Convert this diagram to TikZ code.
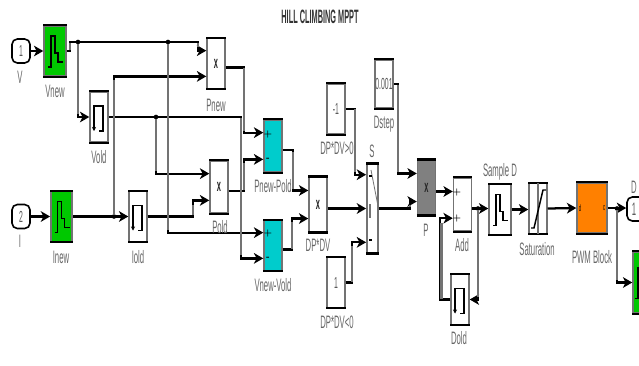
\documentclass[tikz,border=0pt]{standalone}
\usepackage{fontspec}
\usepackage{xcolor}
\usetikzlibrary{arrows.meta, calc}
\newfontfamily\blockfont[FakeStretch=0.43]{Liberation Sans}
\newfontfamily\titlefont[FakeStretch=0.38]{Liberation Sans Bold}
\definecolor{lgreen}{RGB}{0,200,0}
\definecolor{lcyan}{RGB}{0,204,204}
\definecolor{lorange}{RGB}{255,128,0}
\definecolor{side}{RGB}{115,115,115}
\tikzset{
    bar/.style={draw=black, line width=1.8pt},
    block/.style={draw=side, line width=1.1pt, fill=white, inner sep=0pt, minimum width=13.5pt, minimum height=37.5pt,
        font=\fontsize{12}{12}\blockfont, text=black!65,
        append after command={(\tikzlastnode.north west) edge[bar] (\tikzlastnode.north east)
            (\tikzlastnode.south west) edge[bar] (\tikzlastnode.south east)}},
    port/.style={draw=black, line width=1.2pt, fill=white, rounded corners=4pt, inner sep=0pt, minimum width=13.5pt, minimum height=18pt,
        font=\fontsize{12}{12}\blockfont, text=black!65},
    lab/.style={font=\fontsize{13.5}{13.5}\blockfont, text=black!60, inner sep=0pt},
    sign/.style={font=\fontsize{6}{6}\selectfont\bfseries, text=black, inner sep=0pt},
    times/.style={font=\fontsize{13}{13}\blockfont\bfseries, text=black!85, inner sep=0pt},
    wire/.style={black, line width=1.7pt, -{Stealth[length=7pt,width=8pt,inset=2pt]}},
    vseg/.style={side, line width=1.8pt},
    icon/.style={black, line width=1.1pt},
    dot/.style={circle, fill=black, inner sep=0pt, minimum size=3.5pt},
    pics/pulseicon/.style={code={
        \draw[icon] (-7,16) -- (-4,16) -- (-4,-15) -- (0,-15) -- (0,2) -- (3,2) -- (3,11) -- (8,11);}},
    pics/holdicon/.style={code={
        \draw[icon] (-5,8) -- (-5,-11) -- (4,-11) -- (4,14) -- (0,14);
        \draw[icon, -{Stealth[length=3pt,width=3pt]}] (-5,8) -- (-5,14);}}
}
\begin{document}
\begin{tikzpicture}[x=.75pt, y=-.75pt]
    \path[use as bounding box, clip] (0,0) rectangle (639,365);

    \node[font=\fontsize{14.5}{14.5}\titlefont, text=black!80, inner sep=0pt] (title) at (320,17) {HILL CLIMBING MPPT};

    % inputs and first row
    \node[port] (V) at (21,51) {1};
    \node[block, fill=lgreen, minimum width=16.5pt] (Vnew) at (55,51) {};
    \node[block] (Vold) at (99,117) {};
    \node[block] (Pnew) at (216,63.5) {};
    \node[port] (I) at (21,216.5) {2};
    \node[block, fill=lgreen, minimum width=16pt] (Inew) at (61.5,216.5) {};
    \node[block] (Iold) at (138,216.5) {};
    \node[block, minimum height=39pt] (Pold) at (219,187) {};
    \node[block, fill=lcyan, minimum height=39pt] (Dif1) at (273,146) {};
    \node[block, fill=lcyan] (Dif2) at (273,245.5) {};
    \node[block, minimum height=41pt] (DPDV) at (318,204.5) {};

    % switch and its constants
    \node[block] (Cneg) at (336,109) {-1};
    \node[block] (Cpos) at (336,282.5) {1};
    \node[block, minimum height=36pt] (Dstep) at (384,84) {0.001};
    \node[block, minimum width=8.5pt, minimum height=66.5pt] (S) at (372.5,208.5) {};

    % output side
    \node[block, fill=black!50, minimum height=41pt] (P) at (426.5,187.5) {};
    \node[block, minimum height=40pt] (Add) at (462.5,204.5) {};
    \node[block, minimum width=16.5pt] (Sam) at (500,209.5) {};
    \node[block] (Sat) at (538,208.5) {};
    \node[block, fill=lorange, minimum width=22.5pt] (PWM) at (592,208) {};
    \node[block] (Dold) at (460,299.5) {};
    \node[port] (D) at (636,209) {};
    \node[block, fill=lgreen, minimum width=13.5pt, minimum height=46pt] (Scope) at (642,282.5) {};

    \foreach \b in {Pnew,Pold,Dif1,Dif2,DPDV,P,Add} {
        \coordinate (\b-a) at ($(\b.north west)!.25!(\b.south west)$);
        \coordinate (\b-b) at ($(\b.north west)!.75!(\b.south west)$);
        \coordinate (\b-o) at ([yshift=-3pt]\b.east);
    }
    \coordinate (S-a) at ($(S.north west)!.125!(S.south west)$);
    \coordinate (S-c) at ($(S.north west)!.875!(S.south west)$);
    \coordinate (top) at (198,42);

    \node[dot] (j1) at (78,42) {};
    \node[dot] (j2) at (168,42) {};
    \node[dot] (j3) at (114,216.5) {};
    \node[dot] (j4) at (156,117) {};
    \node[dot] (j5) at (478,208.5) {};
    \node[dot] (j6) at (617,208.5) {};

    % connectors
    \draw[wire] (V.east) -- (Vnew.west);
    \draw[wire] (Vnew.east) -- ++(3,0) |- (top) |- (Pnew-a);
    \draw[wire] (j1) |- (Vold.west);
    \draw[wire] (j2) |- (Dif2-a);
    \draw[wire] (Vold.east) -- ++(132,0) |- (Dif2-b);
    \draw[wire] (j4) |- (Pold-a);
    \draw[wire] (j3) |- (Pnew-b);
    \draw[wire] (I.east) -- (Inew.west);
    \draw[wire] (Inew.east) -- (Iold.west);
    \draw[wire] (Iold.east) -- ++(45,0) |- (Pold-b);
    \draw[wire] (Pnew-o) -- ++(18,0) |- (Dif1-a);
    \draw[wire] (Pold-o) -- ++(15,0) |- (Dif1-b);
    \draw[wire] (Dif1-o) -- ++(10,0) |- (DPDV-a);
    \draw[wire] (Dif2-o) -- ++(9,0) |- (DPDV-b);
    \draw[wire] (DPDV-o) -- (DPDV-o -| S.west);
    \draw[wire] (Cneg.east) -- ++(9,0) |- (S-a);
    \draw[wire] (Cpos.east) -- ++(6,0) |- (S-c);
    \draw[wire] (S.east) -- ++(31,0) |- (P-b);
    \draw[wire] (Dstep.east) -- ++(4,0) |- (P-a);
    \draw[wire] (P-o) -- (P-o -| Add.west);
    \draw[wire] (Add-o) -- (Add-o -| Sam.west);
    \draw[wire] (Sam.east) -- (Sam.east -| Sat.west);
    \draw[wire] (Sat.east) -- (PWM.west);
    \draw[wire] (PWM.east) -- (PWM.east -| D.west);
    \draw[wire] (j5) |- (Dold.east);
    \draw[wire] (Dold.west) -- ++(-10,0) |- (Add-b);
    \draw[wire] (j6) |- (Scope.west);

    % vertical runs come out grey
    \foreach \x/\ya/\yb in {69.8/43/50, 78/44/114, 168/44/230, 198/43/47, 114/80/215, 156/119/171, 240.7/118/255, 192.8/205/215,
        243.8/68/131, 243.8/163/190, 292.8/152/189, 291.8/222/249, 354.8/109/172, 351.8/246/282, 397.8/85/172, 409.8/205/207, 441.4/223/299, 478/210/297, 617/210/280}
        \draw[vseg] (\x,\ya) -- (\x,\yb);

    % block icons
    \pic at (Vnew) {pulseicon};
    \pic at (Inew) {pulseicon};
    \pic at (Sam) {pulseicon};
    \pic at (Scope) {pulseicon};
    \pic at (Vold) {holdicon};
    \pic at (Iold) {holdicon};
    \pic at (Dold) {holdicon};
    \draw[icon, side] (Sat.north) -- (Sat.south);
    \draw[icon] (531,228) -- (534,228) -- (543,190) -- (546,190);
    \draw[side, line width=.6pt] (371,170) -- (378,206);
    \draw[side, line width=.8pt] (370,204) -- (370,218);
    \draw[black, line width=.8pt] (369,240) -- (372,240);
    \draw[black, line width=.8pt] (369,176) -- (372,176);

    \node[times] (Pnew-x) at (Pnew) {x};
    \node[times] (Pold-x) at (Pold) {x};
    \node[times] (DPDV-x) at (DPDV) {x};
    \node[times] (P-x) at (P) {x};
    \node[sign] (Dif1-p) at (268,134) {+};
    \node[sign] (Dif1-m) at (268,159) {-};
    \node[sign] (Dif2-p) at (268,233) {+};
    \node[sign] (Dif2-m) at (268,258) {-};
    \node[sign] (Add-p) at (457,192) {+};
    \node[sign] (Add-q) at (457,218) {+};
    \node[sign, font=\fontsize{7}{7}\blockfont] (PWM-d) at (580,208) {d};
    \node[sign, font=\fontsize{7}{7}\blockfont] (PWM-c) at (604,208) {c};
    \node[lab, text=black!65] (D-n) at (634,209) {1};

    % block names
    \node[lab] (V-t) at (20,77) {V};
    \node[lab] (Vnew-t) at (55,91) {Vnew};
    \node[lab] (Vold-t) at (99,157) {Vold};
    \node[lab] (Pnew-t) at (216,105) {Pnew};
    \node[lab] (I-t) at (20,241) {I};
    \node[lab] (Inew-t) at (61,257) {Inew};
    \node[lab] (Iold-t) at (138,257) {Iold};
    \node[lab] (Pold-t) at (220,227) {Pold};
    \node[lab] (Dif1-t) at (273,186) {Pnew-Pold};
    \node[lab] (Dif2-t) at (273,285) {Vnew-Vold};
    \node[lab] (DPDV-t) at (318,245) {DP*DV};
    \node[lab] (Cneg-t) at (337,148) {DP*DV>0};
    \node[lab] (Cpos-t) at (337,322) {DP*DV<0};
    \node[lab] (Dstep-t) at (384,124) {Dstep};
    \node[lab] (S-t) at (372,151) {S};
    \node[lab] (P-t) at (426,230) {P};
    \node[lab] (Add-t) at (462,245) {Add};
    \node[lab] (Sam-t) at (500,172) {Sample D};
    \node[lab] (Sat-t) at (537,249) {Saturation};
    \node[lab] (PWM-t) at (592,257) {PWM Block};
    \node[lab] (D-t) at (634,187) {D};
    \node[lab] (Dold-t) at (459,338) {Dold};
\end{tikzpicture}
\end{document}
